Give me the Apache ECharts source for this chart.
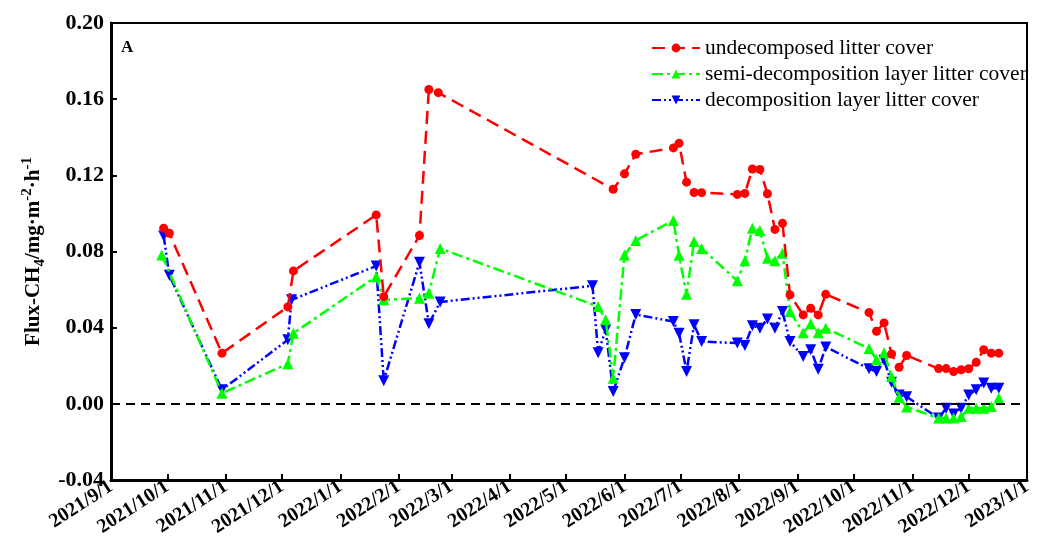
<!DOCTYPE html>
<html>
<head>
<meta charset="utf-8">
<script src="https://cdn.jsdelivr.net/npm/echarts@6/dist/echarts.min.js"></script>
<style>
  html, body { margin: 0; padding: 0; background: #fff; }
  #chart { width: 1053px; height: 543px; }
</style>
</head>
<body>
<div id="chart"></div>
<script>
// axis range and ticks
var xStart = '2021-09-01';
var xEnd = '2023-01-01';
var yTicks = [-0.04, 0.00, 0.04, 0.08, 0.12, 0.16, 0.20];

// undecomposed litter cover
var redDates = ['2021-09-29','2021-10-02','2021-10-30','2021-12-04','2021-12-07','2022-01-20','2022-01-24',
    '2022-02-12','2022-02-17','2022-02-22','2022-05-26','2022-06-01','2022-06-07','2022-06-27','2022-06-30',
    '2022-07-04','2022-07-08','2022-07-12','2022-07-31','2022-08-04','2022-08-08','2022-08-12','2022-08-16',
    '2022-08-20','2022-08-24','2022-08-28','2022-09-04','2022-09-08','2022-09-12','2022-09-16','2022-10-09',
    '2022-10-13','2022-10-17','2022-10-21','2022-10-25','2022-10-29','2022-11-15','2022-11-19','2022-11-23',
    '2022-11-27','2022-12-01','2022-12-05','2022-12-09','2022-12-13','2022-12-17'];
var redValues = [0.0922,0.0896,0.0266,0.0509,0.0698,0.0992,0.0563,
    0.0884,0.1651,0.1634,0.1127,0.1208,0.1311,0.1344,0.1368,
    0.1164,0.1110,0.1109,0.1100,0.1105,0.1233,0.1231,0.1103,
    0.0916,0.0948,0.0572,0.0467,0.0502,0.0467,0.0575,0.0479,
    0.0381,0.0425,0.0262,0.0192,0.0254,0.0185,0.0185,0.0170,
    0.0179,0.0184,0.0218,0.0284,0.0266,0.0266];

// semi-decomposition layer litter cover
var greenDates = ['2021-09-28','2021-10-30','2021-12-04','2021-12-07','2022-01-20','2022-01-24','2022-02-12',
    '2022-02-17','2022-02-23','2022-05-18','2022-05-22','2022-05-26','2022-06-01','2022-06-07','2022-06-27',
    '2022-06-30','2022-07-04','2022-07-08','2022-07-12','2022-07-31','2022-08-04','2022-08-08','2022-08-12',
    '2022-08-16','2022-08-20','2022-08-24','2022-08-28','2022-09-04','2022-09-08','2022-09-12','2022-09-16',
    '2022-10-09','2022-10-13','2022-10-17','2022-10-21','2022-10-25','2022-10-29','2022-11-15','2022-11-19',
    '2022-11-23','2022-11-27','2022-12-01','2022-12-05','2022-12-09','2022-12-13','2022-12-17'];
var greenValues = [0.0782,0.0056,0.0210,0.0371,0.0668,0.0546,0.0555,
    0.0581,0.0816,0.0511,0.0441,0.0135,0.0782,0.0858,0.0963,
    0.0780,0.0575,0.0852,0.0816,0.0646,0.0751,0.0922,0.0910,
    0.0765,0.0751,0.0791,0.0485,0.0373,0.0420,0.0373,0.0397,
    0.0291,0.0231,0.0268,0.0143,0.0034,-0.0016,-0.0075,-0.0075,
    -0.0075,-0.0067,-0.0023,-0.0023,-0.0023,-0.0014,0.0030];

// decomposition layer litter cover
var blueDates = ['2021-09-29','2021-10-02','2021-10-30','2021-12-04','2021-12-06','2022-01-20','2022-01-24',
    '2022-02-12','2022-02-17','2022-02-23','2022-05-15','2022-05-18','2022-05-22','2022-05-26','2022-06-01',
    '2022-06-07','2022-06-27','2022-06-30','2022-07-04','2022-07-08','2022-07-12','2022-07-31','2022-08-04',
    '2022-08-08','2022-08-12','2022-08-16','2022-08-20','2022-08-24','2022-08-28','2022-09-04','2022-09-08',
    '2022-09-12','2022-09-16','2022-10-09','2022-10-13','2022-10-17','2022-10-21','2022-10-25','2022-10-29',
    '2022-11-15','2022-11-19','2022-11-23','2022-11-27','2022-12-01','2022-12-05','2022-12-09','2022-12-13',
    '2022-12-17'];
var blueValues = [0.0882,0.0675,0.0074,0.0336,0.0546,0.0724,0.0121,
    0.0743,0.0420,0.0535,0.0620,0.0268,0.0388,0.0065,0.0242,
    0.0469,0.0432,0.0371,0.0170,0.0415,0.0327,0.0319,0.0307,
    0.0410,0.0397,0.0445,0.0397,0.0485,0.0327,0.0248,0.0284,
    0.0181,0.0299,0.0184,0.0170,0.0229,0.0113,0.0047,0.0037,
    -0.0075,-0.0023,-0.0053,-0.0023,0.0047,0.0074,0.0109,0.0082,
    0.0082];

var seriesNames = ['undecomposed litter cover', 'semi-decomposition layer litter cover', 'decomposition layer litter cover'];

var FONT = '"Times New Roman", "Liberation Serif", serif';

function pair(dates, values) {
    var out = [];
    for (var i = 0; i < dates.length; i++) {
        out.push([dates[i], values[i]]);
    }
    return out;
}

var myChart = echarts.init(document.getElementById('chart'), null, {renderer: 'canvas'});

var option = {
    animation: false,
    title: {
        text: 'A',
        left: 116,
        top: 34,
        textStyle: {fontFamily: FONT, fontWeight: 'bold', fontSize: 17, color: '#000'}
    },
    grid: {
        left: 111, right: 26, top: 23, bottom: 63,
        show: true,
        borderColor: '#000',
        borderWidth: 2,
        containLabel: false,
        outerBoundsMode: 'none'
    },
    legend: {
        orient: 'vertical',
        left: 646,
        top: 32,
        itemWidth: 48,
        itemHeight: 11,
        itemGap: 4,
        data: seriesNames,
        textStyle: {fontFamily: FONT, fontSize: 21.5, lineHeight: 22, color: '#000'}
    },
    xAxis: {
        type: 'time',
        min: xStart,
        max: xEnd,
        splitNumber: 16,
        minInterval: 28 * 24 * 3600 * 1000,
        axisLine: {onZero: false, lineStyle: {color: '#000', width: 3}},
        axisTick: {inside: true, length: 6, lineStyle: {color: '#000', width: 2}},
        splitLine: {show: false},
        axisLabel: {
            rotate: 33,
            margin: 5,
            showMinLabel: true,
            showMaxLabel: true,
            color: '#000',
            fontFamily: FONT,
            fontWeight: 'bold',
            fontSize: 20,
            formatter: function (value) {
                var d = new Date(value);
                return d.getFullYear() + '/' + (d.getMonth() + 1) + '/' + d.getDate();
            }
        }
    },
    yAxis: {
        type: 'value',
        min: yTicks[0],
        max: yTicks[yTicks.length - 1],
        interval: 0.04,
        name: 'Flux-CH{sub|4}/mg·m{sup|-2}·h{sup|-1}',
        nameLocation: 'middle',
        nameGap: 62,
        nameTextStyle: {
            fontFamily: FONT, fontWeight: 'bold', fontSize: 21, color: '#000', lineHeight: 28,
            rich: {
                sub: {fontFamily: FONT, fontWeight: 'bold', fontSize: 15, color: '#000', lineHeight: 15, verticalAlign: 'bottom'},
                sup: {fontFamily: FONT, fontWeight: 'bold', fontSize: 15, color: '#000', lineHeight: 15, verticalAlign: 'top'}
            }
        },
        axisLine: {show: true, lineStyle: {color: '#000', width: 3}},
        axisTick: {show: true, inside: true, length: 6, lineStyle: {color: '#000', width: 2}},
        splitLine: {show: false},
        axisLabel: {
            margin: 7,
            color: '#000',
            fontFamily: FONT,
            fontWeight: 'bold',
            fontSize: 22,
            formatter: function (v) { return v.toFixed(2); }
        }
    },
    series: [
        {
            name: seriesNames[0],
            type: 'line',
            data: pair(redDates, redValues),
            symbol: 'circle',
            symbolSize: 9,
            itemStyle: {color: '#ff0000'},
            lineStyle: {color: '#ff0000', width: 2.5, type: [13, 7]},
            markLine: {
                silent: true,
                symbol: 'none',
                label: {show: false},
                lineStyle: {color: '#000', width: 2, type: [9, 6]},
                data: [{yAxis: 0}]
            },
            z: 3
        },
        {
            name: seriesNames[1],
            type: 'line',
            data: pair(greenDates, greenValues),
            symbol: 'triangle',
            symbolSize: 11,
            itemStyle: {color: '#00ff00'},
            lineStyle: {color: '#00ff00', width: 2.5, type: [11, 4, 3, 4]},
            z: 2
        },
        {
            name: seriesNames[2],
            type: 'line',
            data: pair(blueDates, blueValues),
            symbol: 'triangle',
            symbolRotate: 180,
            symbolSize: 11,
            itemStyle: {color: '#0000ff'},
            lineStyle: {color: '#0000ff', width: 2.5, type: [9, 3, 2, 3, 2, 3]},
            z: 1
        }
    ]
};

myChart.setOption(option);
</script>
</body>
</html>
